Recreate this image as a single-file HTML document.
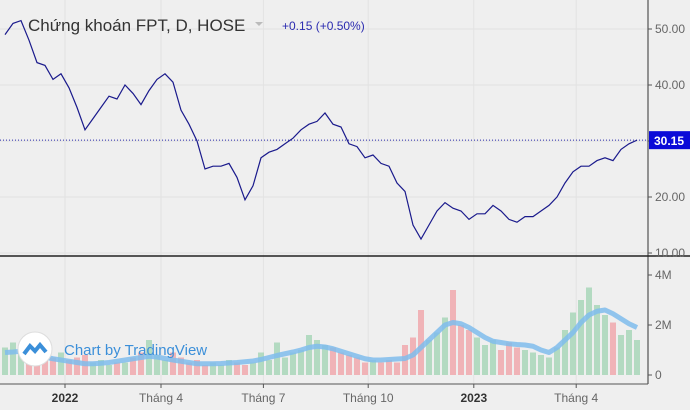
<!DOCTYPE html>
<html><head><meta charset="utf-8">
<style>
body{margin:0;background:#f0f0f0;}
svg{display:block;font-family:"Liberation Sans",sans-serif;}
</style></head><body>
<svg id="c" width="690" height="410">
<rect width="690" height="410" fill="#efefef"/>
<g id="grid"></g>
<g id="vol"></g>
<g id="price"></g>
<line x1="648" y1="0" x2="648" y2="384" stroke="#333" stroke-width="1"/>
<line x1="0" y1="256" x2="690" y2="256" stroke="#222" stroke-width="1.5"/>
<line x1="0" y1="384" x2="648" y2="384" stroke="#555" stroke-width="1"/>
<g id="axes"></g>
<g>
<text x="28" y="31" font-size="17" fill="#333">Chứng khoán FPT, D, HOSE</text>
<path d="M255 22 l8 0 l-4 4 z" fill="#bbb"/>
<text x="282" y="30" font-size="12" fill="#2b2bb0">+0.15 (+0.50%)</text>
</g>
<g>
<circle cx="35" cy="349" r="17" fill="#fff" stroke="#ddd"/>
<path d="M24 354 l6-8 l5 5 l5-6 l6 7" stroke="#3b8fd9" stroke-width="4" fill="none"/>
<text x="64" y="355" font-size="15" fill="#3b8fd9">Chart by TradingView</text>
</g>
</svg>
<script>
const prices=[49,51,51.5,48,44,43.5,41,42,39.5,36,32,34,36,38,37.5,40,38.5,36.5,39,41,42,40.5,35.5,33,30,25,25.5,25.5,26,23.5,19.5,22,27,28,28.5,29.5,30.5,32,33,33.5,35,33,32.5,29.5,29,27,27.5,26,25.5,22.5,21,15,12.5,15,17.5,19,18,17.5,16,17,17,18.5,17.5,16,15.5,16.5,16.5,17.5,18.5,20,22.5,24.5,25.5,25.5,26.5,27,26.5,28.5,29.5,30.15];
const volumes=[1.1,1.3,0.9,1.0,1.2,0.8,0.7,0.9,0.6,0.7,0.8,0.5,0.6,0.4,0.5,0.5,0.7,0.9,1.4,0.8,0.6,0.9,0.7,0.5,0.6,0.4,0.5,0.4,0.6,0.5,0.4,0.5,0.9,0.6,1.3,0.7,0.9,1.0,1.6,1.4,1.2,1.1,0.9,0.8,0.7,0.5,0.6,0.5,0.6,0.5,1.2,1.5,2.6,1.4,1.7,2.3,3.4,2.0,1.8,1.5,1.2,1.4,1.0,1.3,1.1,1.0,0.9,0.8,0.7,1.1,1.8,2.5,3.0,3.5,2.8,2.4,2.1,1.6,1.8,1.4];
const volMA=[0.9,0.92,0.95,0.9,0.8,0.72,0.65,0.6,0.55,0.5,0.45,0.45,0.47,0.5,0.55,0.6,0.65,0.7,0.75,0.72,0.66,0.6,0.55,0.5,0.45,0.45,0.45,0.46,0.48,0.5,0.53,0.56,0.62,0.7,0.78,0.85,0.92,1.0,1.1,1.15,1.12,1.05,0.95,0.85,0.75,0.65,0.6,0.6,0.62,0.64,0.66,0.8,1.1,1.4,1.7,2.0,2.1,2.05,1.9,1.7,1.5,1.35,1.3,1.25,1.22,1.2,1.15,1.0,0.9,1.1,1.4,1.7,2.1,2.4,2.55,2.6,2.45,2.25,2.05,1.9];
const priceTicks=[10,20,30,40,50];
const priceTickLabels=["10.00","20.00","30.00","40.00","50.00"];
const volTicks=[0,2,4];
const volTickLabels=["0","2M","4M"];
const timeTickPos=[7.5,19.5,32.3,45.4,58.6,71.4];
const timeTickLabels=["2022","Tháng 4","Tháng 7","Tháng 10","2023","Tháng 4"];
const lastPrice=30.15;
const NS="http://www.w3.org/2000/svg";
const X=i=>5+i*8;
const Y=v=>29+(50-v)*5.6;
const VY=v=>375-v*25;
function el(t,a,p){const e=document.createElementNS(NS,t);for(const k in a)e.setAttribute(k,a[k]);document.getElementById(p).appendChild(e);return e;}
priceTicks.forEach(t=>{const g=el('line',{x1:0,x2:648,y1:Y(t),y2:Y(t),stroke:'#e2e2e2'},'grid');});
timeTickPos.forEach(t=>{const g=el('line',{x1:X(t),x2:X(t),y1:0,y2:384,stroke:'#e2e2e2'},'grid');});
volumes.forEach((v,i)=>{const up=i==0||prices[i]>=prices[i-1];
const b=el('rect',{x:X(i)-3,y:VY(v),width:6,height:v*25,fill:up?'#a8d6b8':'#f0a8ad','fill-opacity':0.85},'vol');

});
const ma=el('polyline',{points:volMA.map((v,i)=>X(i)+','+VY(v)).join(' '),fill:'none',stroke:'#7fbcec','stroke-width':5,'stroke-opacity':0.85,'stroke-linejoin':'round'},'vol');


const ll=el('line',{x1:0,x2:648,y1:Y(lastPrice),y2:Y(lastPrice),stroke:'#2b2bb0','stroke-dasharray':'1,2'},'price');


const pl=el('polyline',{points:prices.map((v,i)=>X(i)+','+Y(v)).join(' '),fill:'none',stroke:'#1a1a8c','stroke-width':1.2},'price');


priceTicks.forEach((t,i)=>{const tk=el('line',{x1:648,x2:652,y1:Y(t),y2:Y(t),stroke:'#555'},'axes');
const tx=el('text',{x:655,y:Y(t)+4,'font-size':12,fill:'#666'},'axes');tx.textContent=priceTickLabels[i];});
volTicks.forEach((t,i)=>{const tk=el('line',{x1:648,x2:652,y1:VY(t),y2:VY(t),stroke:'#555'},'axes');
const tx=el('text',{x:655,y:VY(t)+4,'font-size':12,fill:'#666'},'axes');tx.textContent=volTickLabels[i];});
timeTickPos.forEach((t,i)=>{const tk=el('line',{x1:X(t),x2:X(t),y1:384,y2:388,stroke:'#555'},'axes');
const bold=timeTickLabels[i].length==4;
const tx=el('text',{x:X(t),y:402,'font-size':12,fill:bold?'#333':'#666','font-weight':bold?'bold':'normal','text-anchor':'middle'},'axes');tx.textContent=timeTickLabels[i];});
const lb=el('rect',{x:649,y:Y(lastPrice)-9,width:41,height:18,fill:'#0a0ad8'},'axes');


const lt=el('text',{x:654,y:Y(lastPrice)+5,'font-size':12,fill:'#fff','font-weight':'bold'},'axes');
lt.textContent=lastPrice.toFixed(2);


</script>
</body></html>
